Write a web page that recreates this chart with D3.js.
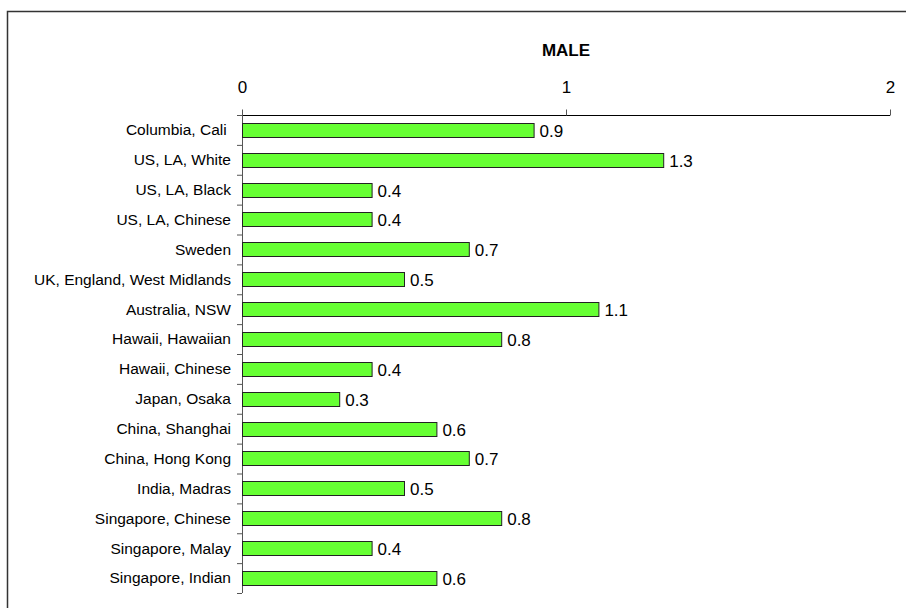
<!DOCTYPE html>
<html>
<head>
<meta charset="utf-8">
<style>
html, body {
  margin: 0px;
  padding: 0px;
  background: #fff;
}
svg text {
  font-family: "Liberation Sans", Arial, sans-serif;
  white-space: pre;
}
</style>
</head>
<body>
<div id="chart"></div>
<script src="https://cdn.jsdelivr.net/npm/d3@7"></script>
<script>
  var categories = ["Columbia, Cali ", "US, LA, White", "US, LA, Black", "US, LA, Chinese",
    "Sweden", "UK, England, West Midlands", "Australia, NSW", "Hawaii, Hawaiian",
    "Hawaii, Chinese", "Japan, Osaka", "China, Shanghai", "China, Hong Kong",
    "India, Madras", "Singapore, Chinese", "Singapore, Malay", "Singapore, Indian"];
  var values = [0.9, 1.3, 0.4, 0.4, 0.7, 0.5, 1.1, 0.8, 0.4, 0.3, 0.6, 0.7, 0.5, 0.8, 0.4, 0.6];
  var xTicks = [0, 1, 2];
  var title = "MALE";

  var width = 906, height = 608;
  var svg = d3.select("#chart").append("svg")
    .attr("width", width)
    .attr("height", height);

  // frame, only top and left edges visible
  svg.append("rect")
    .attr("x", 7.5).attr("y", 11.5)
    .attr("width", 1000).attr("height", 1000)
    .attr("fill", "none")
    .attr("stroke", "#333")
    .attr("stroke-width", 1.5);

  var x = d3.scaleLinear().domain([0, 2]).range([242, 890]);
  var y = d3.scaleBand().domain(categories).range([115, 593]).paddingInner(0.52).paddingOuter(0.26);

  // top axis
  var xAxis = d3.axisTop(x).tickValues(xTicks).tickFormat(d3.format("d")).tickSize(6).tickPadding(17);
  var gx = svg.append("g").attr("transform", "translate(0,115.5)").call(xAxis);
  gx.select(".domain").attr("stroke", "#000").attr("d", "M242,0H890");
  gx.selectAll(".tick line").attr("stroke", "#555");
  gx.selectAll(".tick text").attr("font-size", 17).attr("fill", "#000")
    .attr("font-family", "'Liberation Sans', Arial, sans-serif");

  svg.append("text")
    .attr("x", x(1)).attr("y", 56)
    .attr("text-anchor", "middle")
    .attr("font-weight", "bold")
    .attr("font-size", 17)
    .text(title);

  // left axis: line with ticks between categories
  var step = y.step();
  var gy = svg.append("g");
  gy.append("line")
    .attr("x1", 242.5).attr("x2", 242.5)
    .attr("y1", 115).attr("y2", 593)
    .attr("stroke", "#555");
  gy.selectAll("line.tk")
    .data(d3.range(categories.length + 1))
    .enter().append("line")
    .attr("class", "tk")
    .attr("x1", 237).attr("x2", 242)
    .attr("y1", function (i) { return 115.5 + i * step; })
    .attr("y2", function (i) { return 115.5 + i * step; })
    .attr("stroke", "#555");
  gy.selectAll("text")
    .data(categories)
    .enter().append("text")
    .attr("x", 231)
    .attr("y", function (d) { return y(d) + y.bandwidth() / 2; })
    .attr("dy", "0.35em")
    .attr("text-anchor", "end")
    .attr("font-size", 15.5)
    .text(function (d) { return d; });

  // bars
  svg.selectAll("rect.bar")
    .data(values)
    .enter().append("rect")
    .attr("class", "bar")
    .attr("x", x(0) + 0.5)
    .attr("y", function (d, i) { return Math.round(y(categories[i])) + 0.5; })
    .attr("width", function (d) { return x(d) - x(0); })
    .attr("height", 14)
    .attr("fill", "#66ff33")
    .attr("stroke", "#222")
    .attr("stroke-width", 1);

  svg.selectAll("text.val")
    .data(values)
    .enter().append("text")
    .attr("class", "val")
    .attr("x", function (d) { return x(d) + 6; })
    .attr("y", function (d, i) { return Math.round(y(categories[i])) + 8; })
    .attr("dy", "0.35em")
    .attr("font-size", 17)
    .text(function (d) { return d.toFixed(1); });
</script>
</body>
</html>
